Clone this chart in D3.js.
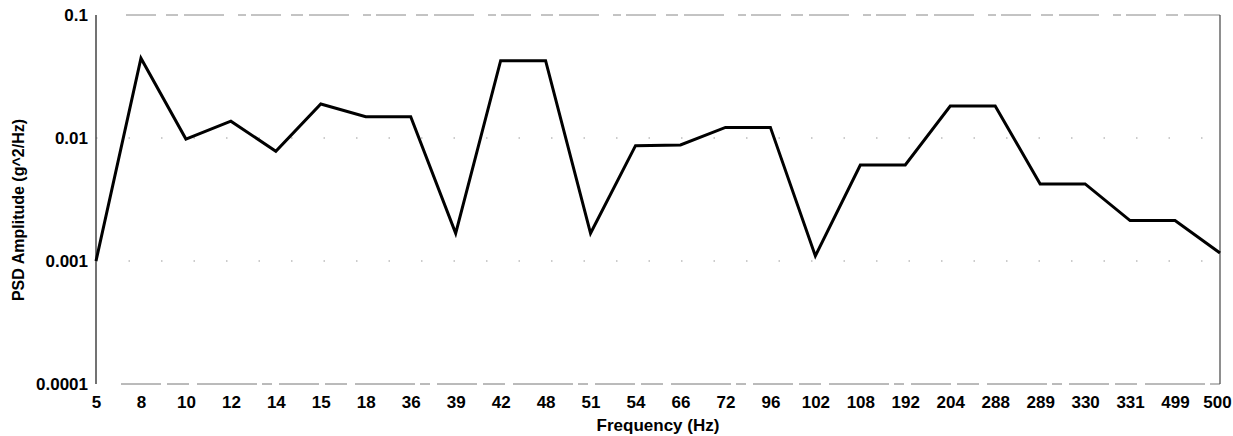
<!DOCTYPE html>
<html>
<head>
<meta charset="utf-8">
<script src="https://cdn.jsdelivr.net/npm/d3@7/dist/d3.min.js"></script>
<style>
  html, body { margin: 0; padding: 0; background: #fff; }
  svg { display: block; }
  text { font-family: "Liberation Sans", Arial, sans-serif; font-weight: bold; fill: #000; }
</style>
</head>
<body>
<svg id="chart" width="1233" height="436"></svg>
<script>
const frequencies = ["5","8","10","12","14","15","18","36","39","42","48","51","54","66","72","96","102","108","192","204","288","289","330","331","499","500"];
const psdValues = [0.001,0.0445,0.0098,0.0137,0.0078,0.0189,0.0149,0.0149,0.00168,0.0425,0.0425,0.00168,0.00866,0.00877,0.0122,0.0122,0.0011,0.00603,0.00603,0.0182,0.0182,0.00423,0.00423,0.00213,0.00213,0.00116];
const yTickValues = [0.0001, 0.001, 0.01, 0.1];
const yTickLabels = ["0.0001", "0.001", "0.01", "0.1"];
const xTitle = "Frequency (Hz)";
const yTitle = "PSD Amplitude (g^2/Hz)";

const svg = d3.select("#chart");
const pLeft = 96, pRight = 1220, pTop = 15, pBottom = 384;
const fontFam = '"Liberation Sans", Arial, sans-serif';

const x = d3.scalePoint().domain(frequencies).range([pLeft, pRight]);
const y = d3.scaleLog().domain([0.0001, 0.1]).range([pBottom, pTop]);

// faint dotted gridlines
svg.append("g").selectAll("line").data(yTickValues.slice(1, 3)).join("line")
  .attr("x1", pLeft).attr("x2", pRight)
  .attr("y1", d => y(d)).attr("y2", d => y(d))
  .attr("stroke", "#999").attr("stroke-width", 1)
  .attr("stroke-dasharray", "1.5,31");

// frame
svg.append("line").attr("x1", pLeft + 30).attr("x2", pRight).attr("y1", pTop).attr("y2", pTop)
  .attr("stroke", "#888").attr("stroke-width", 1).attr("stroke-dasharray", "30,10,12,6,40,14,8,5");
svg.append("line").attr("x1", pLeft + 25).attr("x2", pRight).attr("y1", pBottom).attr("y2", pBottom)
  .attr("stroke", "#777").attr("stroke-width", 1).attr("stroke-dasharray", "40,6,22,8,60,5,10,7");
svg.append("line").attr("x1", pLeft).attr("x2", pLeft).attr("y1", pTop).attr("y2", pBottom)
  .attr("stroke", "#444").attr("stroke-width", 1.5);
svg.append("line").attr("x1", pRight).attr("x2", pRight).attr("y1", pTop).attr("y2", pBottom)
  .attr("stroke", "#444").attr("stroke-width", 1.2);

// y axis labels
const yAxis = d3.axisLeft(y).tickValues(yTickValues)
  .tickFormat((d, i) => yTickLabels[i]).tickSize(0).tickPadding(8);
const gy = svg.append("g").attr("transform", `translate(${pLeft},0)`).call(yAxis);
gy.select(".domain").remove();
gy.selectAll("text").style("font-size", "17px").style("font-family", fontFam).style("font-weight", "bold").attr("fill", "#000");

// x axis labels
const xAxis = d3.axisBottom(x).tickSize(0).tickPadding(12);
const gx = svg.append("g").attr("transform", `translate(0,${pBottom})`).call(xAxis);
gx.select(".domain").remove();
gx.selectAll("text").style("font-size", "17px").style("font-family", fontFam).style("font-weight", "bold").attr("fill", "#000");
// keep the last label inside the page
gx.selectAll(".tick").filter(d => d === frequencies[frequencies.length - 1])
  .select("text").attr("dx", -3);

// line
const line = d3.line().x((d, i) => x(frequencies[i])).y(d => y(d));
svg.append("path").datum(psdValues)
  .attr("d", line).attr("fill", "none").attr("stroke", "#000")
  .attr("stroke-width", 3).attr("stroke-linejoin", "miter");

// titles
svg.append("text").attr("x", 658).attr("y", 431).attr("text-anchor", "middle")
  .style("font-size", "17px").text(xTitle);
svg.append("text").attr("transform", "translate(24,210) rotate(-90)").attr("text-anchor", "middle")
  .style("font-size", "16px").text(yTitle);
</script>
</body>
</html>
